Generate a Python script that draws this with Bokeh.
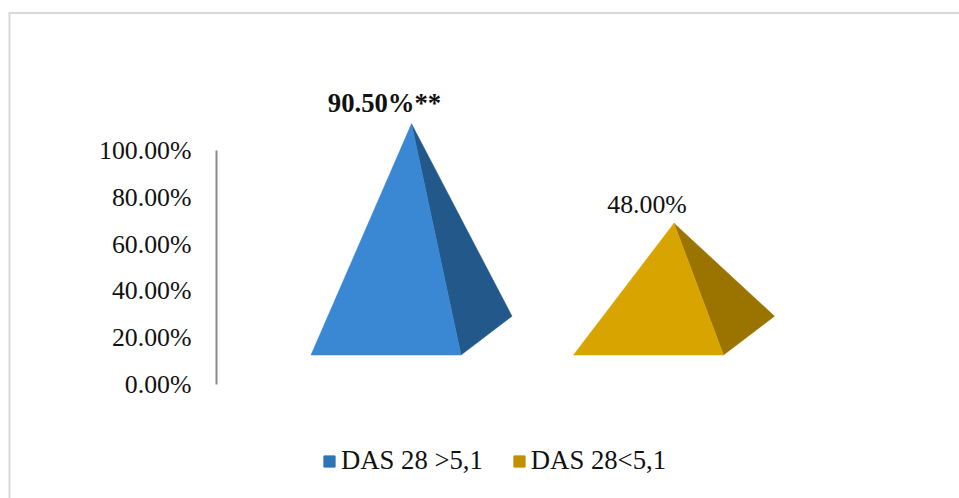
from bokeh.plotting import figure
from bokeh.embed import file_html
from bokeh.resources import INLINE
from bokeh.models import Range1d, FixedTicker, PrintfTickFormatter, Legend, LegendItem, LinearAxis
from bokeh.core.properties import value

# --- data ---
series = ["DAS 28 >5,1", "DAS 28<5,1"]
values = [90.5, 48.0]
labels = ["90.50%**", "48.00%"]
ticks = [0, 20, 40, 60, 80, 100]
front_colors = ["#3a87d3", "#d8a500"]
side_colors = ["#22598a", "#9b7400"]
legend_colors = ["#2e75b6", "#bf9000"]
label_styles = ["bold", "normal"]
label_sizes = ["26.7px", "25.8px"]
label_dx = [-27, -27]
label_dy = [-20.5, -19]

# --- layout ---
W, H = 959, 498
PX = 2.34                 # pixels per percentage point
Y0 = 384                  # zero line, pixels from figure top
FONT = "Liberation Serif"
FLOOR_FRONT, FLOOR_BACK = 12.6, 29.2
HALF_W, DEPTH = 100.5, 51
centers = [411.0, 673.5]

p = figure(width=W, height=H, output_backend="svg", toolbar_location=None,
           x_range=Range1d(0, W),
           y_range=Range1d(-(H - Y0) / PX, Y0 / PX),
           min_border=0, outline_line_color=None, background_fill_color="white",
           x_axis_location=None, y_axis_location=None)
p.grid.visible = False

# frame of the chart area
frame_top = (Y0 - 12.5) / PX
p.line([9, 9], [-(H - Y0) / PX, frame_top], line_color="#d9d9d9", line_width=2)
p.line([8, W], [frame_top, frame_top], line_color="#d9d9d9", line_width=2)

# pyramids
floor_mid = (FLOOR_FRONT + FLOOR_BACK) / 2
for c, v, fc, sc in zip(centers, values, front_colors, side_colors):
    left = c - HALF_W
    right = left + 150
    back = right + DEPTH
    apex = floor_mid + v
    p.patch([right, back, c], [FLOOR_FRONT, FLOOR_BACK, apex], fill_color=sc, line_color=sc, line_width=0.5)
    p.patch([left, right, c], [FLOOR_FRONT, FLOOR_FRONT, apex], fill_color=fc, line_color=fc, line_width=0.5)

# data labels
for c, v, t, st, sz, dx, dy in zip(centers, values, labels, label_styles, label_sizes, label_dx, label_dy):
    p.text([c], [floor_mid + v], text=[t], text_font=value(FONT), text_font_size=sz,
           text_font_style=st, text_color="#111111", text_align="center",
           text_baseline="middle", x_offset=dx, y_offset=dy)

# y axis
ax = LinearAxis(ticker=FixedTicker(ticks=ticks),
                formatter=PrintfTickFormatter(format="%.2f%%"),
                fixed_location=216, bounds=(0, 100))
ax.axis_line_color = "#8c8c8c"
ax.axis_line_width = 2
ax.major_tick_line_color = None
ax.major_tick_out = 0
ax.major_tick_in = 0
ax.minor_tick_line_color = None
ax.minor_tick_out = 0
ax.major_label_standoff = 25
ax.major_label_text_font = FONT
ax.major_label_text_font_size = "25.8px"
ax.major_label_text_color = "#111111"
p.add_layout(ax, "left")

# legend
nan = float("nan")
items = []
for s, col in zip(series, legend_colors):
    r = p.quad(left=[nan], right=[nan], top=[nan], bottom=[nan], fill_color=col, line_color=col)
    items.append(LegendItem(label=s, renderers=[r]))
leg = Legend(items=items, orientation="horizontal", location=(322, 22),
             glyph_width=14, glyph_height=14, label_standoff=5, spacing=29,
             padding=0, margin=0, border_line_color=None, background_fill_alpha=0,
             label_text_font=FONT, label_text_font_size="26.7px", label_text_color="#111111",
             label_height=20)
p.add_layout(leg, "center")

open("out.html", "w").write(file_html(p, INLINE))
